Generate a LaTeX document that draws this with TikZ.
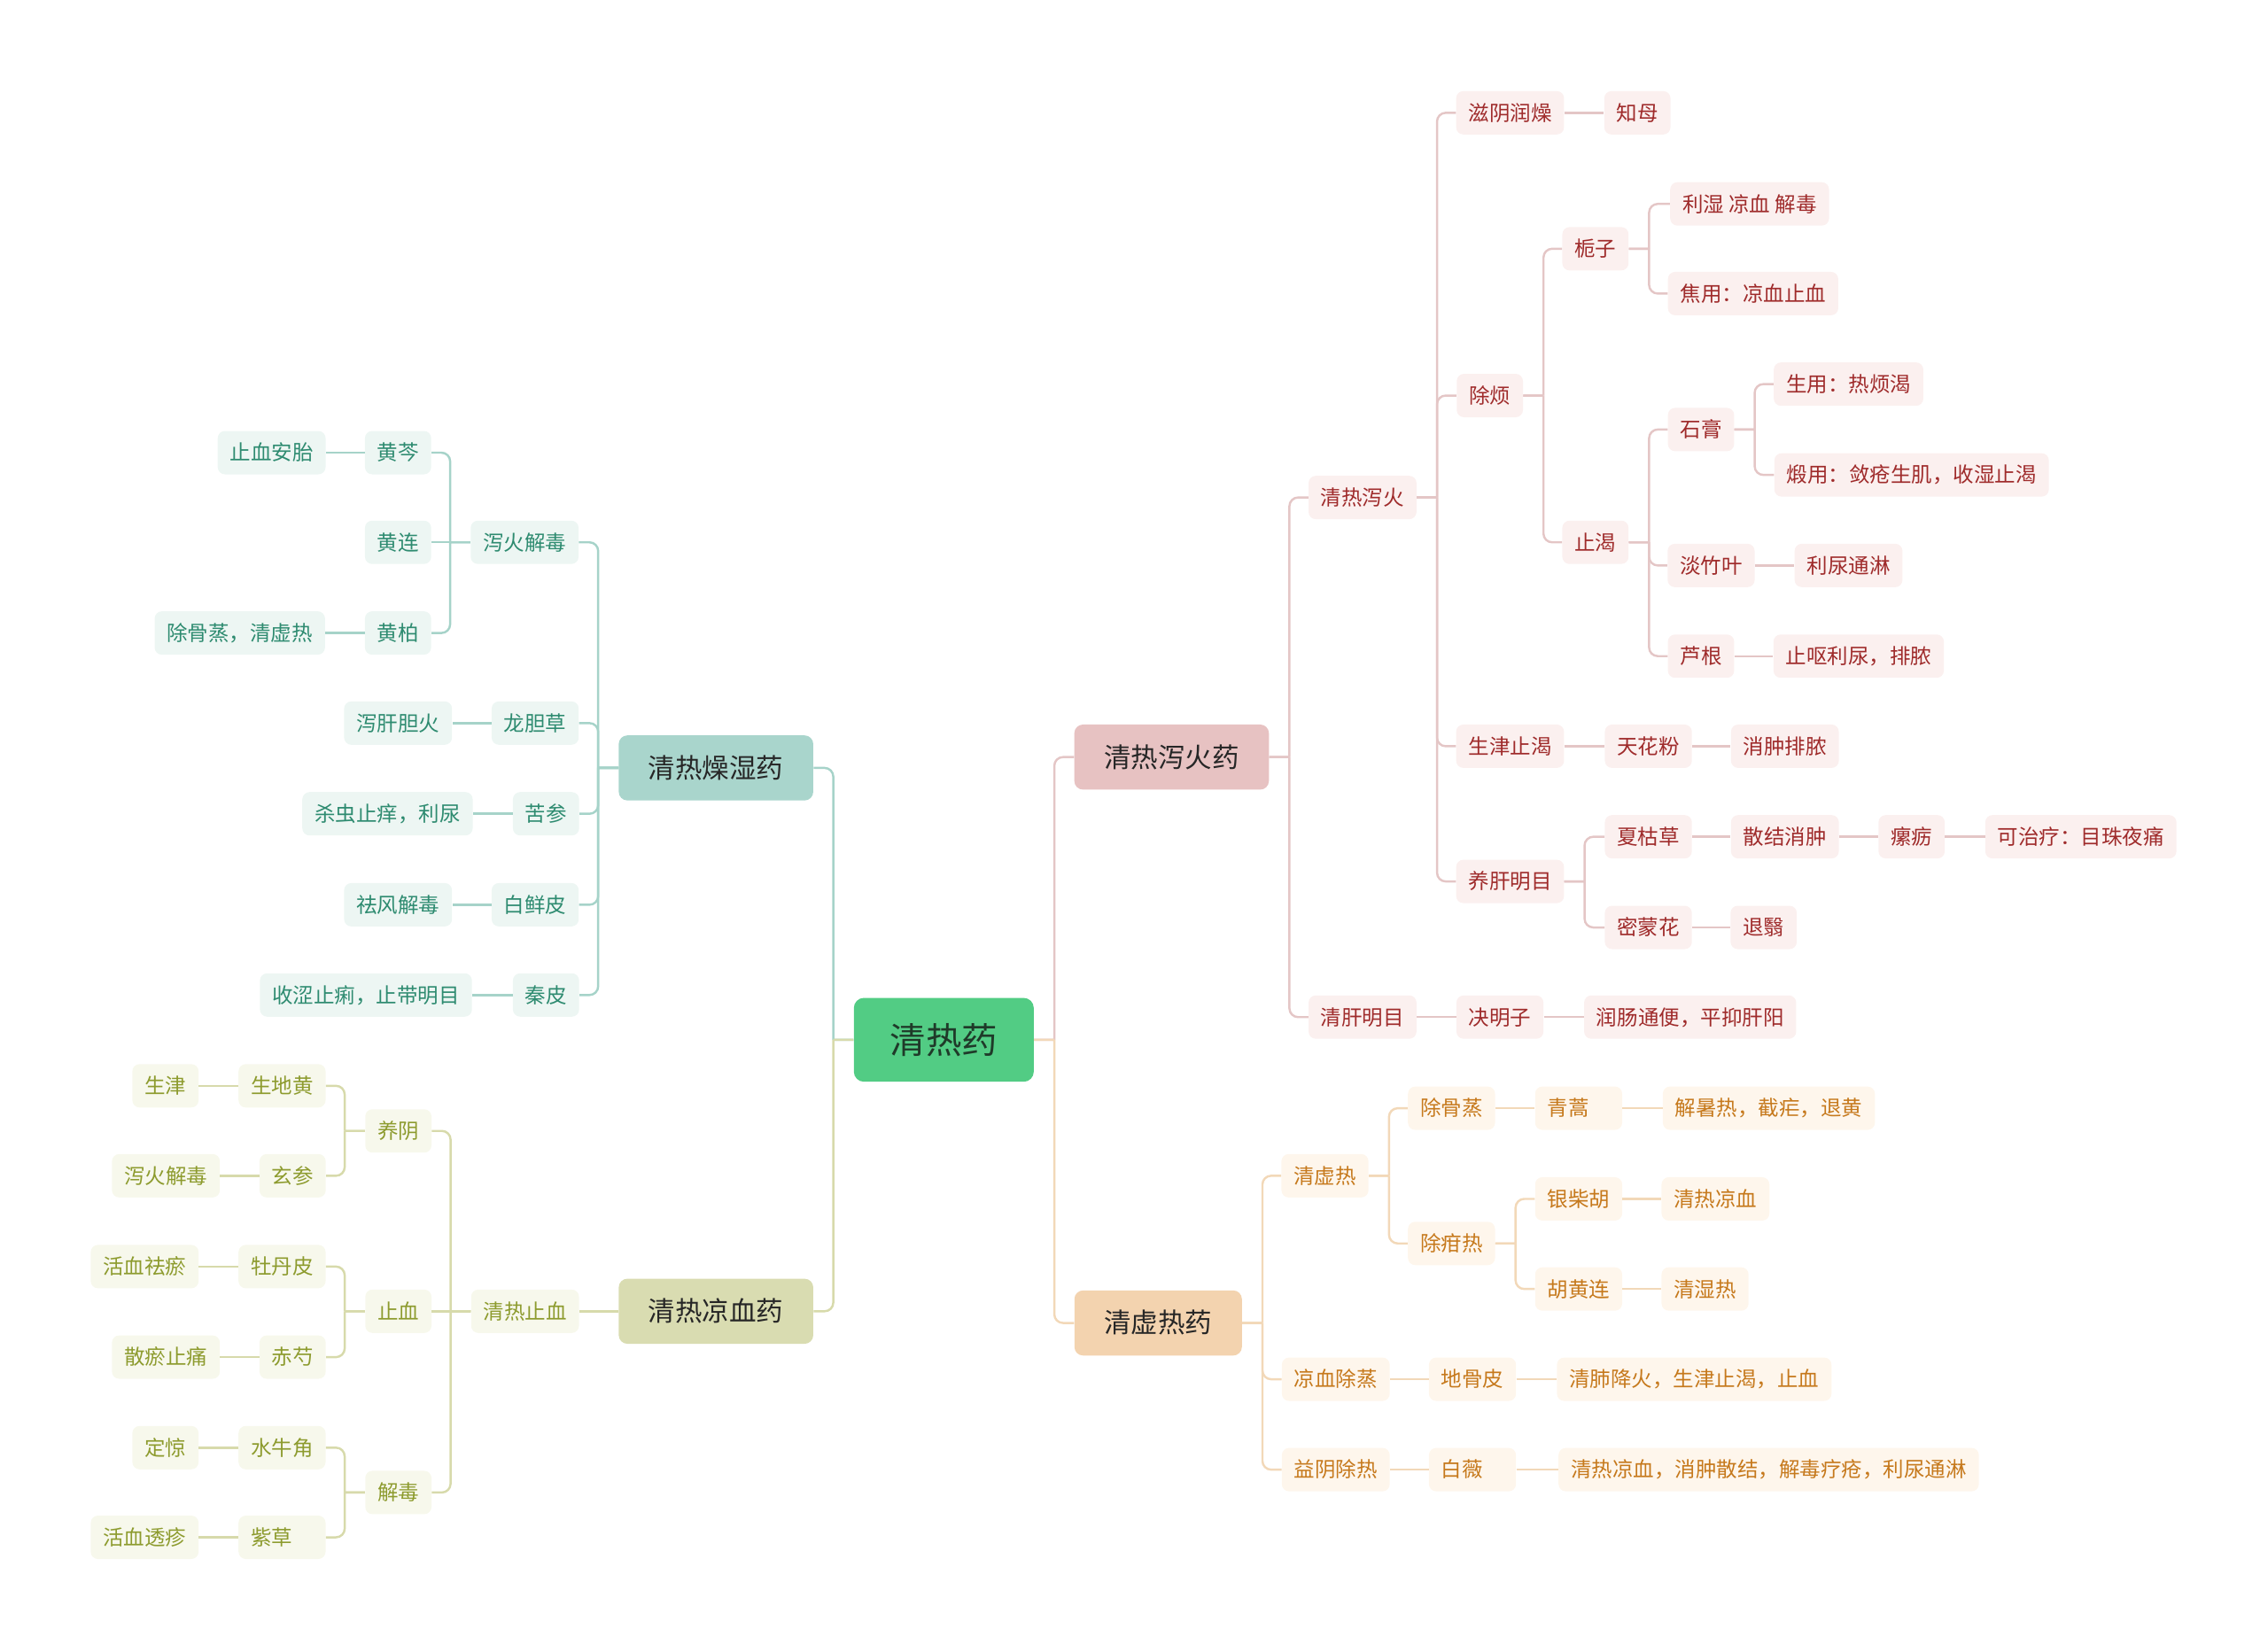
\documentclass[tikz,border=0pt]{standalone}
\usepackage{fontspec}
\newfontfamily\cjk{Noto Sans CJK SC}
\usetikzlibrary{calc}

\definecolor{rootfill}{HTML}{52CC84}
\definecolor{roottext}{HTML}{1F3A29}
\definecolor{maintext}{HTML}{262626}
\definecolor{redmain}{HTML}{E7C2C2}
\definecolor{redfill}{HTML}{FBF0EF}
\definecolor{redtext}{HTML}{9F2B2B}
\definecolor{redline}{HTML}{E4C6C6}
\definecolor{orgmain}{HTML}{F3D3AF}
\definecolor{orgfill}{HTML}{FEF6EC}
\definecolor{orgtext}{HTML}{C6791C}
\definecolor{orgline}{HTML}{F2D8B8}
\definecolor{tealmain}{HTML}{A9D5CC}
\definecolor{tealfill}{HTML}{EDF6F3}
\definecolor{tealtext}{HTML}{2E8B70}
\definecolor{tealline}{HTML}{A6D3C9}
\definecolor{olvmain}{HTML}{D9DCB1}
\definecolor{olvfill}{HTML}{F7F8EC}
\definecolor{olvtext}{HTML}{8D9B2E}
\definecolor{olvline}{HTML}{D7DAAB}

\begin{document}
\begin{tikzpicture}[x=1pt, y=-1pt,
		base_style/.style={rectangle, rounded corners=5pt, minimum height=30pt, inner xsep=8.5pt, inner ysep=0pt,
			text height=12pt, text depth=1.2pt, font=\cjk\fontsize{14.4}{16}\selectfont},
		main_style/.style={rectangle, rounded corners=6pt, minimum height=45pt, inner xsep=20.5pt, inner ysep=0pt,
			text height=15.6pt, text depth=1.6pt, text=maintext, font=\cjk\fontsize{18.7}{22}\selectfont},
		root_style/.style={rectangle, rounded corners=7pt, minimum height=58pt, inner xsep=25pt, inner ysep=0pt,
			text height=20.6pt, text depth=2pt, fill=rootfill, text=roottext, font=\cjk\fontsize{24.8}{28}\selectfont},
		red_node/.style={base_style, fill=redfill, text=redtext},
		org_node/.style={base_style, fill=orgfill, text=orgtext},
		teal_node/.style={base_style, fill=tealfill, text=tealtext},
		olv_node/.style={base_style, fill=olvfill, text=olvtext},
		edge_base/.style={line width=1.5pt, rounded corners=6pt},
		red_edge/.style={edge_base, draw=redline},
		org_edge/.style={edge_base, draw=orgline},
		teal_edge/.style={edge_base, draw=tealline},
		olv_edge/.style={edge_base, draw=olvline},
		rbranch/.style={to path={let \p1=(\tikztostart), \p2=(\tikztotarget) in
			-- (\x1+14pt,\y1) (\x1+14pt,\y1) |- (\p2)}},
		lbranch/.style={to path={let \p1=(\tikztostart), \p2=(\tikztotarget) in
			-- (\x1-14pt,\y1) (\x1-14pt,\y1) |- (\p2)}}]

		\useasboundingbox (0,0) rectangle (1568,1142);

		% centre
		\node[root_style] (root) at (652.5,719) {清热药};

		% upper right
		\node[main_style, fill=redmain] (a) at (810,523.5) {清热泻火药};
		\node[red_node] (a1) at (942,344) {清热泻火};
		\node[red_node] (a11) at (1044,78) {滋阴润燥};
		\node[red_node] (a111) at (1132,78) {知母};
		\node[red_node] (a12) at (1030,273.5) {除烦};
		\node[red_node] (a121) at (1103,172) {栀子};
		\node[red_node] (a1211) at (1209.6,141) {利湿 凉血 解毒};
		\node[red_node] (a1212) at (1212,203) {焦用：凉血止血};
		\node[red_node] (a122) at (1103,375) {止渴};
		\node[red_node] (a1221) at (1176,297) {石膏};
		\node[red_node] (a12211) at (1278,265.6) {生用：热烦渴};
		\node[red_node] (a12212) at (1321.6,328.4) {煅用：敛疮生肌，收湿止渴};
		\node[red_node] (a1222) at (1183,391) {淡竹叶};
		\node[red_node] (a12221) at (1278,391) {利尿通淋};
		\node[red_node] (a1223) at (1176,453.7) {芦根};
		\node[red_node] (a12231) at (1285,453.7) {止呕利尿，排脓};
		\node[red_node] (a13) at (1044,516) {生津止渴};
		\node[red_node] (a131) at (1139.6,516) {天花粉};
		\node[red_node] (a1311) at (1234,516) {消肿排脓};
		\node[red_node] (a14) at (1044,609.5) {养肝明目};
		\node[red_node] (a141) at (1139.6,578.6) {夏枯草};
		\node[red_node] (a1411) at (1234,578.6) {散结消肿};
		\node[red_node] (a14111) at (1321.6,578.6) {瘰疬};
		\node[red_node] (a141111) at (1438.6,578.6) {可治疗：目珠夜痛};
		\node[red_node] (a142) at (1139.6,641.3) {密蒙花};
		\node[red_node] (a1421) at (1219.3,641.3) {退翳};
		\node[red_node] (a2) at (942,703.3) {清肝明目};
		\node[red_node] (a21) at (1037,703.3) {决明子};
		\node[red_node] (a211) at (1168.5,703.3) {润肠通便，平抑肝阳};

		% lower right
		\node[main_style, fill=orgmain] (x) at (800.7,914.8) {清虚热药};
		\node[org_node] (x1) at (916,813) {清虚热};
		\node[org_node] (x11) at (1003.5,766.3) {除骨蒸};
		\node[org_node] (x111) at (1091.4,766.3) {青蒿\hphantom{蒿}};
		\node[org_node] (x1111) at (1222.9,766.3) {解暑热，截疟，退黄};
		\node[org_node] (x12) at (1003.5,859.8) {除疳热};
		\node[org_node] (x121) at (1091.4,829) {银柴胡};
		\node[org_node] (x1211) at (1186,829) {清热凉血};
		\node[org_node] (x122) at (1091.4,891.3) {胡黄连};
		\node[org_node] (x1221) at (1178.8,891.3) {清湿热};
		\node[org_node] (x2) at (923.5,953.7) {凉血除蒸};
		\node[org_node] (x21) at (1018,953.7) {地骨皮};
		\node[org_node] (x211) at (1171.3,953.7) {清肺降火，生津止渴，止血};
		\node[org_node] (x3) at (923.5,1016.2) {益阴除热};
		\node[org_node] (x31) at (1018,1016.2) {白薇\hphantom{薇}};
		\node[org_node] (x311) at (1222.8,1016.2) {清热凉血，消肿散结，解毒疗疮，利尿通淋};

		% upper left
		\node[main_style, fill=tealmain] (z) at (495,531) {清热燥湿药};
		\node[teal_node] (z1) at (362.7,375) {泻火解毒};
		\node[teal_node] (z11) at (275.2,313) {黄芩};
		\node[teal_node] (z111) at (187.8,313) {止血安胎};
		\node[teal_node] (z12) at (275.2,375) {黄连};
		\node[teal_node] (z13) at (275.2,437.7) {黄柏};
		\node[teal_node] (z131) at (165.8,437.7) {除骨蒸，清虚热};
		\node[teal_node] (z2) at (370,500) {龙胆草};
		\node[teal_node] (z21) at (275.2,500) {泻肝胆火};
		\node[teal_node] (z3) at (377.5,562.7) {苦参};
		\node[teal_node] (z31) at (267.9,562.7) {杀虫止痒，利尿};
		\node[teal_node] (z4) at (370,625.6) {白鲜皮};
		\node[teal_node] (z41) at (275.2,625.6) {祛风解毒};
		\node[teal_node] (z5) at (377.5,688) {秦皮};
		\node[teal_node] (z51) at (253,688) {收涩止痢，止带明目};

		% lower left
		\node[main_style, fill=olvmain] (l) at (495,906.7) {清热凉血药};
		\node[olv_node] (l1) at (363,906.7) {清热止血};
		\node[olv_node] (l11) at (275.4,782) {养阴};
		\node[olv_node] (l111) at (195,750.8) {生地黄};
		\node[olv_node] (l1111) at (114.4,750.8) {生津};
		\node[olv_node] (l112) at (202.3,813) {玄参};
		\node[olv_node] (l1121) at (114.7,813) {泻火解毒};
		\node[olv_node] (l12) at (275.4,906.7) {止血};
		\node[olv_node] (l121) at (195,875.8) {牡丹皮};
		\node[olv_node] (l1211) at (100,875.8) {活血祛瘀};
		\node[olv_node] (l122) at (202.3,938.4) {赤芍};
		\node[olv_node] (l1221) at (114.7,938.4) {散瘀止痛};
		\node[olv_node] (l13) at (275.4,1032) {解毒};
		\node[olv_node] (l131) at (195,1001) {水牛角};
		\node[olv_node] (l1311) at (114.4,1001) {定惊};
		\node[olv_node] (l132) at (195,1063) {紫草\hphantom{草}};
		\node[olv_node] (l1321) at (100,1063) {活血透疹};

		% connectors
		\draw[red_edge] (root.east) to[rbranch] (a.west);
		\draw[teal_edge] (root.west) to[lbranch] (z.east);
		\draw[org_edge] (root.east) to[rbranch] (x.west);
		\draw[olv_edge] (root.west) to[lbranch] (l.east);

		\draw[red_edge] (a.east) to[rbranch] (a1.west);
		\draw[red_edge] (a.east) to[rbranch] (a2.west);
		\foreach \c in {a11,a12,a13,a14}
			\draw[red_edge] (a1.east) to[rbranch] (\c.west);
		\draw[red_edge] (a11.east) -- (a111.west);
		\draw[red_edge] (a12.east) to[rbranch] (a121.west);
		\draw[red_edge] (a12.east) to[rbranch] (a122.west);
		\draw[red_edge] (a121.east) to[rbranch] (a1211.west);
		\draw[red_edge] (a121.east) to[rbranch] (a1212.west);
		\foreach \c in {a1221,a1222,a1223}
			\draw[red_edge] (a122.east) to[rbranch] (\c.west);
		\draw[red_edge] (a1221.east) to[rbranch] (a12211.west);
		\draw[red_edge] (a1221.east) to[rbranch] (a12212.west);
		\draw[red_edge] (a1222.east) -- (a12221.west);
		\draw[red_edge] (a1223.east) -- (a12231.west);
		\draw[red_edge] (a13.east) -- (a131.west);
		\draw[red_edge] (a131.east) -- (a1311.west);
		\draw[red_edge] (a14.east) to[rbranch] (a141.west);
		\draw[red_edge] (a14.east) to[rbranch] (a142.west);
		\draw[red_edge] (a141.east) -- (a1411.west);
		\draw[red_edge] (a1411.east) -- (a14111.west);
		\draw[red_edge] (a14111.east) -- (a141111.west);
		\draw[red_edge] (a142.east) -- (a1421.west);
		\draw[red_edge] (a2.east) -- (a21.west);
		\draw[red_edge] (a21.east) -- (a211.west);

		\foreach \c in {x1,x2,x3}
			\draw[org_edge] (x.east) to[rbranch] (\c.west);
		\draw[org_edge] (x1.east) to[rbranch] (x11.west);
		\draw[org_edge] (x1.east) to[rbranch] (x12.west);
		\draw[org_edge] (x11.east) -- (x111.west);
		\draw[org_edge] (x111.east) -- (x1111.west);
		\draw[org_edge] (x12.east) to[rbranch] (x121.west);
		\draw[org_edge] (x12.east) to[rbranch] (x122.west);
		\draw[org_edge] (x121.east) -- (x1211.west);
		\draw[org_edge] (x122.east) -- (x1221.west);
		\draw[org_edge] (x2.east) -- (x21.west);
		\draw[org_edge] (x21.east) -- (x211.west);
		\draw[org_edge] (x3.east) -- (x31.west);
		\draw[org_edge] (x31.east) -- (x311.west);

		\foreach \c in {z1,z2,z3,z4,z5}
			\draw[teal_edge] (z.west) to[lbranch] (\c.east);
		\draw[teal_edge] (z1.west) to[lbranch] (z11.east);
		\draw[teal_edge] (z1.west) -- (z12.east);
		\draw[teal_edge] (z1.west) to[lbranch] (z13.east);
		\draw[teal_edge] (z11.west) -- (z111.east);
		\draw[teal_edge] (z13.west) -- (z131.east);
		\draw[teal_edge] (z2.west) -- (z21.east);
		\draw[teal_edge] (z3.west) -- (z31.east);
		\draw[teal_edge] (z4.west) -- (z41.east);
		\draw[teal_edge] (z5.west) -- (z51.east);

		\draw[olv_edge] (l.west) -- (l1.east);
		\draw[olv_edge] (l1.west) to[lbranch] (l11.east);
		\draw[olv_edge] (l1.west) -- (l12.east);
		\draw[olv_edge] (l1.west) to[lbranch] (l13.east);
		\draw[olv_edge] (l11.west) to[lbranch] (l111.east);
		\draw[olv_edge] (l11.west) to[lbranch] (l112.east);
		\draw[olv_edge] (l12.west) to[lbranch] (l121.east);
		\draw[olv_edge] (l12.west) to[lbranch] (l122.east);
		\draw[olv_edge] (l13.west) to[lbranch] (l131.east);
		\draw[olv_edge] (l13.west) to[lbranch] (l132.east);
		\draw[olv_edge] (l111.west) -- (l1111.east);
		\draw[olv_edge] (l112.west) -- (l1121.east);
		\draw[olv_edge] (l121.west) -- (l1211.east);
		\draw[olv_edge] (l122.west) -- (l1221.east);
		\draw[olv_edge] (l131.west) -- (l1311.east);
		\draw[olv_edge] (l132.west) -- (l1321.east);

\end{tikzpicture}
\end{document}
